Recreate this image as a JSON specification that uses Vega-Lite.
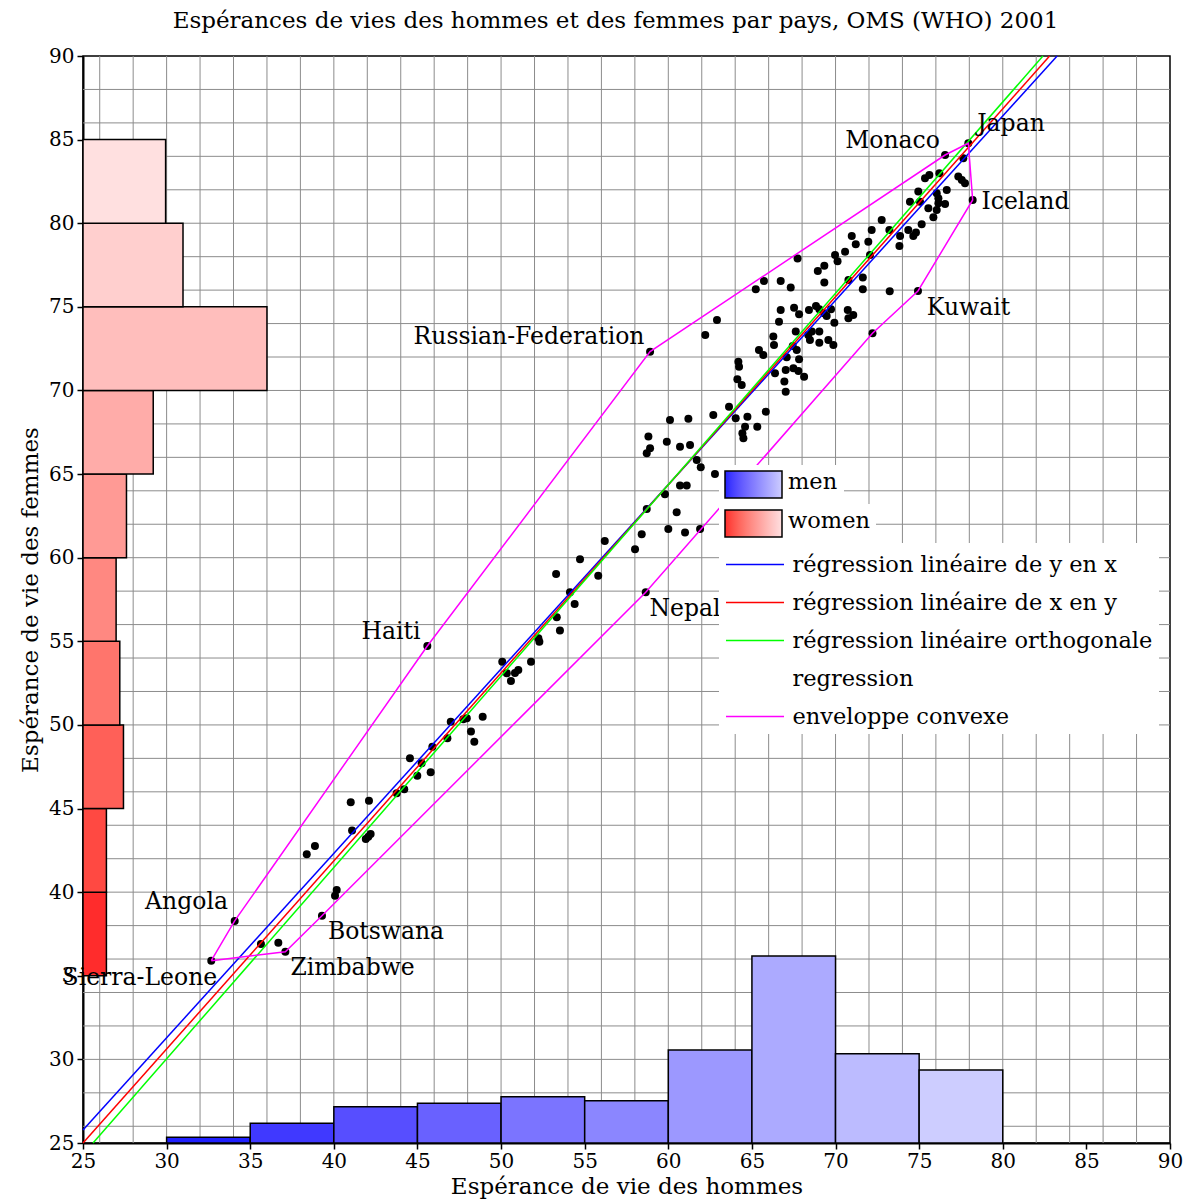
{
  "$schema": "https://vega.github.io/schema/vega-lite/v6.json",
  "width": 1087,
  "height": 1087,
  "autosize": "none",
  "padding": {"left": 83, "top": 56, "right": 17, "bottom": 57},
  "background": "white",
  "config": {"view": {"stroke": "black", "strokeWidth": 1.5}, "font": "DejaVu Serif", "axis": {"labelOverlap": false, "labelFlush": false}},
  "title": {"text": "Espérances de vies des hommes et des femmes par pays, OMS (WHO) 2001", "font": "DejaVu Serif", "fontSize": 23, "fontWeight": "normal", "color": "black", "offset": 13, "anchor": "middle", "dx": -11},
  "datasets": {
    "grid": [
      {"v": 26}, {"v": 28}, {"v": 30}, {"v": 32}, {"v": 34}, {"v": 36}, {"v": 38}, {"v": 40}, {"v": 42}, {"v": 44},
      {"v": 46}, {"v": 48}, {"v": 50}, {"v": 52}, {"v": 54}, {"v": 56}, {"v": 58}, {"v": 60}, {"v": 62}, {"v": 64},
      {"v": 66}, {"v": 68}, {"v": 70}, {"v": 72}, {"v": 74}, {"v": 76}, {"v": 78}, {"v": 80}, {"v": 82}, {"v": 84},
      {"v": 86}, {"v": 88}
    ],
    "women": [
      {"lo": 35, "hi": 40, "len": 26.4},
      {"lo": 40, "hi": 45, "len": 26.4},
      {"lo": 45, "hi": 50, "len": 27.42},
      {"lo": 50, "hi": 55, "len": 27.2},
      {"lo": 55, "hi": 60, "len": 26.98},
      {"lo": 60, "hi": 65, "len": 27.6},
      {"lo": 65, "hi": 70, "len": 29.2},
      {"lo": 70, "hi": 75, "len": 36.0},
      {"lo": 75, "hi": 80, "len": 30.98},
      {"lo": 80, "hi": 85, "len": 29.94}
    ],
    "men": [
      {"lo": 30, "hi": 35, "top": 25.34},
      {"lo": 35, "hi": 40, "top": 26.18},
      {"lo": 40, "hi": 45, "top": 27.17},
      {"lo": 45, "hi": 50, "top": 27.37},
      {"lo": 50, "hi": 55, "top": 27.77},
      {"lo": 55, "hi": 60, "top": 27.53},
      {"lo": 60, "hi": 65, "top": 30.56},
      {"lo": 65, "hi": 70, "top": 36.18},
      {"lo": 70, "hi": 75, "top": 30.34},
      {"lo": 75, "hi": 80, "top": 29.37}
    ],
    "pts": [
      {"m": 45.59, "f": 54.72}, {"m": 50.07, "f": 53.78}, {"m": 50.34, "f": 53.09}, {"m": 50.59, "f": 52.63},
      {"m": 50.83, "f": 53.11}, {"m": 51.03, "f": 53.29}, {"m": 51.79, "f": 53.78}, {"m": 52.29, "f": 54.98},
      {"m": 52.23, "f": 55.18}, {"m": 46.99, "f": 50.19}, {"m": 47.74, "f": 50.34}, {"m": 47.95, "f": 50.4},
      {"m": 48.9, "f": 50.49}, {"m": 48.2, "f": 49.6}, {"m": 48.4, "f": 49.0}, {"m": 46.79, "f": 49.2},
      {"m": 45.89, "f": 48.7}, {"m": 44.55, "f": 48.01}, {"m": 45.25, "f": 47.71}, {"m": 44.99, "f": 46.96},
      {"m": 45.79, "f": 47.17}, {"m": 43.76, "f": 45.91}, {"m": 44.21, "f": 46.15}, {"m": 41.01, "f": 45.37},
      {"m": 42.1, "f": 45.47}, {"m": 41.09, "f": 43.68}, {"m": 41.91, "f": 43.18}, {"m": 42.2, "f": 43.48},
      {"m": 42.06, "f": 43.32}, {"m": 38.38, "f": 42.26}, {"m": 38.87, "f": 42.76}, {"m": 40.17, "f": 40.13},
      {"m": 40.07, "f": 39.79}, {"m": 39.29, "f": 38.59}, {"m": 34.07, "f": 38.28}, {"m": 35.64, "f": 36.9},
      {"m": 36.68, "f": 36.98}, {"m": 37.1, "f": 36.44}, {"m": 32.67, "f": 35.9}, {"m": 53.29, "f": 59.03},
      {"m": 54.72, "f": 59.91}, {"m": 55.81, "f": 58.92}, {"m": 56.2, "f": 61.0}, {"m": 54.12, "f": 57.93},
      {"m": 54.4, "f": 57.23}, {"m": 53.33, "f": 56.44}, {"m": 53.52, "f": 55.64}, {"m": 58.01, "f": 60.5},
      {"m": 58.41, "f": 61.4}, {"m": 58.65, "f": 57.93}, {"m": 58.71, "f": 62.91}, {"m": 59.8, "f": 63.79},
      {"m": 60.0, "f": 61.72}, {"m": 60.5, "f": 62.72}, {"m": 61.0, "f": 61.5}, {"m": 61.9, "f": 61.72},
      {"m": 60.7, "f": 64.31}, {"m": 61.1, "f": 64.31}, {"m": 61.7, "f": 65.84}, {"m": 61.94, "f": 65.41},
      {"m": 62.79, "f": 65.01}, {"m": 60.1, "f": 68.24}, {"m": 61.2, "f": 68.31}, {"m": 62.69, "f": 68.53},
      {"m": 63.63, "f": 69.03}, {"m": 64.03, "f": 68.34}, {"m": 64.73, "f": 68.43}, {"m": 64.59, "f": 67.83},
      {"m": 65.32, "f": 67.83}, {"m": 64.43, "f": 67.44}, {"m": 64.49, "f": 67.14}, {"m": 65.83, "f": 68.73},
      {"m": 58.81, "f": 67.24}, {"m": 59.91, "f": 66.94}, {"m": 60.7, "f": 66.64}, {"m": 61.3, "f": 66.74},
      {"m": 58.91, "f": 66.54}, {"m": 58.71, "f": 66.24}, {"m": 64.39, "f": 70.33}, {"m": 58.91, "f": 72.32},
      {"m": 62.21, "f": 73.32}, {"m": 62.91, "f": 74.22}, {"m": 65.23, "f": 76.05}, {"m": 65.72, "f": 76.55},
      {"m": 66.72, "f": 76.55}, {"m": 67.32, "f": 76.15}, {"m": 67.73, "f": 77.89}, {"m": 68.94, "f": 77.15},
      {"m": 69.33, "f": 77.45}, {"m": 69.33, "f": 76.45}, {"m": 70.12, "f": 77.73}, {"m": 70.77, "f": 76.61},
      {"m": 71.63, "f": 76.76}, {"m": 71.63, "f": 76.05}, {"m": 73.24, "f": 75.93}, {"m": 74.93, "f": 75.95},
      {"m": 66.72, "f": 74.81}, {"m": 67.52, "f": 74.95}, {"m": 67.82, "f": 74.56}, {"m": 68.41, "f": 74.81},
      {"m": 68.83, "f": 75.05}, {"m": 69.03, "f": 74.86}, {"m": 69.31, "f": 74.62}, {"m": 69.73, "f": 74.86},
      {"m": 69.47, "f": 74.45}, {"m": 69.93, "f": 74.05}, {"m": 70.73, "f": 74.81}, {"m": 71.06, "f": 74.51},
      {"m": 70.77, "f": 74.32}, {"m": 72.21, "f": 73.42}, {"m": 66.62, "f": 74.11}, {"m": 67.62, "f": 73.52},
      {"m": 66.28, "f": 73.22}, {"m": 66.32, "f": 72.72}, {"m": 68.37, "f": 73.32}, {"m": 68.58, "f": 73.52},
      {"m": 69.03, "f": 73.52}, {"m": 68.47, "f": 73.02}, {"m": 69.03, "f": 72.86}, {"m": 69.57, "f": 73.02},
      {"m": 69.87, "f": 72.72}, {"m": 67.44, "f": 72.66}, {"m": 67.68, "f": 72.42}, {"m": 65.42, "f": 72.42},
      {"m": 65.68, "f": 72.12}, {"m": 67.08, "f": 71.98}, {"m": 67.82, "f": 71.87}, {"m": 64.19, "f": 71.72},
      {"m": 64.23, "f": 71.42}, {"m": 66.38, "f": 71.03}, {"m": 67.02, "f": 71.23}, {"m": 67.48, "f": 71.33},
      {"m": 67.78, "f": 71.17}, {"m": 68.12, "f": 70.82}, {"m": 64.13, "f": 70.67}, {"m": 66.94, "f": 70.53},
      {"m": 67.02, "f": 69.93}, {"m": 77.94, "f": 84.78}, {"m": 76.55, "f": 84.08}, {"m": 77.64, "f": 83.89},
      {"m": 75.61, "f": 82.89}, {"m": 75.35, "f": 82.69}, {"m": 76.21, "f": 82.99}, {"m": 77.34, "f": 82.79},
      {"m": 77.55, "f": 82.59}, {"m": 77.74, "f": 82.39}, {"m": 78.2, "f": 81.39}, {"m": 74.95, "f": 81.89},
      {"m": 76.05, "f": 81.79}, {"m": 76.65, "f": 81.99}, {"m": 74.45, "f": 81.29}, {"m": 75.05, "f": 81.29},
      {"m": 76.15, "f": 81.49}, {"m": 75.55, "f": 80.9}, {"m": 76.15, "f": 81.19}, {"m": 76.55, "f": 81.15},
      {"m": 76.05, "f": 80.79}, {"m": 75.85, "f": 80.36}, {"m": 72.76, "f": 80.2}, {"m": 72.16, "f": 79.6},
      {"m": 70.97, "f": 79.24}, {"m": 71.21, "f": 78.74}, {"m": 71.96, "f": 78.9}, {"m": 73.22, "f": 79.6},
      {"m": 73.86, "f": 79.24}, {"m": 73.82, "f": 78.64}, {"m": 74.35, "f": 79.6}, {"m": 74.65, "f": 79.24},
      {"m": 75.15, "f": 79.94}, {"m": 74.81, "f": 79.44}, {"m": 70.57, "f": 78.3}, {"m": 69.97, "f": 78.1},
      {"m": 72.06, "f": 78.1}
    ],
    "lines": [
      {"series": "régression linéaire de y en x", "ord": 0, "x": 25, "y": 25.78},
      {"series": "régression linéaire de y en x", "ord": 1, "x": 83.25, "y": 90},
      {"series": "régression linéaire de x en y", "ord": 0, "x": 25, "y": 25.0},
      {"series": "régression linéaire de x en y", "ord": 1, "x": 82.8, "y": 90},
      {"series": "régression linéaire orthogonale", "ord": 0, "x": 25.6, "y": 25},
      {"series": "régression linéaire orthogonale", "ord": 1, "x": 82.4, "y": 90},
      {"series": "enveloppe convexe", "ord": 0, "x": 32.67, "y": 35.9},
      {"series": "enveloppe convexe", "ord": 1, "x": 34.07, "y": 38.28},
      {"series": "enveloppe convexe", "ord": 2, "x": 45.59, "y": 54.72},
      {"series": "enveloppe convexe", "ord": 3, "x": 58.91, "y": 72.32},
      {"series": "enveloppe convexe", "ord": 4, "x": 76.55, "y": 84.08},
      {"series": "enveloppe convexe", "ord": 5, "x": 77.94, "y": 84.78},
      {"series": "enveloppe convexe", "ord": 6, "x": 78.2, "y": 81.39},
      {"series": "enveloppe convexe", "ord": 7, "x": 74.93, "y": 75.95},
      {"series": "enveloppe convexe", "ord": 8, "x": 72.21, "y": 73.42},
      {"series": "enveloppe convexe", "ord": 9, "x": 58.65, "y": 57.93},
      {"series": "enveloppe convexe", "ord": 10, "x": 39.29, "y": 38.59},
      {"series": "enveloppe convexe", "ord": 11, "x": 37.1, "y": 36.44},
      {"series": "enveloppe convexe", "ord": 12, "x": 32.67, "y": 35.9}
    ],
    "labels": [
      {"name": "Japan", "lx": 80.49, "ly": 85.94},
      {"name": "Monaco", "lx": 73.41, "ly": 84.92},
      {"name": "Iceland", "lx": 81.36, "ly": 81.27},
      {"name": "Kuwait", "lx": 77.95, "ly": 74.93},
      {"name": "Russian-Federation", "lx": 51.67, "ly": 73.2},
      {"name": "Haiti", "lx": 43.42, "ly": 55.56},
      {"name": "Nepal", "lx": 61.0, "ly": 56.93},
      {"name": "Angola", "lx": 31.19, "ly": 39.41},
      {"name": "Botswana", "lx": 43.12, "ly": 37.62},
      {"name": "Zimbabwe", "lx": 41.12, "ly": 35.47},
      {"name": "Sierra-Leone", "lx": 28.4, "ly": 34.87}
    ]
  },
  "layer": [
    {
      "data": {"name": "grid"},
      "mark": {"type": "rule", "color": "#8c8c8c", "strokeWidth": 1},
      "encoding": {
        "x": {"field": "v", "type": "quantitative", "title": "Espérance de vie des hommes",
          "scale": {"domain": [25, 90], "nice": false, "zero": false},
          "axis": {
            "values": [25,30,35,40,45,50,55,60,65,70,75,80,85,90],
            "grid": false,
            "tickColor": "black", "tickSize": 6, "tickWidth": 1.5,
            "domainColor": "black", "domainWidth": 2,
            "labelFont": "DejaVu Serif", "labelFontSize": 20, "labelColor": "black", "labelPadding": 2,
            "labelFlush": false, "labelOverlap": false,
            "titleFont": "DejaVu Serif", "titleFontSize": 23, "titleFontWeight": "normal", "titleColor": "black", "titlePadding": 4
          }
        }
      }
    },
    {
      "data": {"name": "grid"},
      "mark": {"type": "rule", "color": "#8c8c8c", "strokeWidth": 1},
      "encoding": {
        "y": {"field": "v", "type": "quantitative", "title": "Espérance de vie des femmes",
          "scale": {"domain": [25, 90], "nice": false, "zero": false},
          "axis": {
            "values": [25,30,35,40,45,50,55,60,65,70,75,80,85,90],
            "grid": false,
            "tickColor": "black", "tickSize": 6, "tickWidth": 1.5,
            "domainColor": "black", "domainWidth": 2,
            "labelExpr": "datum.value === 35 ? '3\u00a0\u00a0' : datum.label",
            "labelFont": "DejaVu Serif", "labelFontSize": 20, "labelColor": "black", "labelPadding": 3,
            "labelFlush": false, "labelOverlap": false,
            "titleFont": "DejaVu Serif", "titleFontSize": 23, "titleFontWeight": "normal", "titleColor": "black", "titlePadding": 6
          }
        }
      }
    },
    {
      "data": {"name": "women"},
      "mark": {"type": "rect", "stroke": "black", "strokeWidth": 1.5},
      "encoding": {
        "y": {"field": "lo", "type": "quantitative", "title": "Espérance de vie des femmes", "scale": {"domain": [25, 90], "nice": false, "zero": false}},
        "y2": {"field": "hi"},
        "x": {"field": "len", "type": "quantitative", "title": "Espérance de vie des hommes", "scale": {"domain": [25, 90], "nice": false, "zero": false}},
        "x2": {"datum": 25},
        "fill": {"field": "lo", "type": "quantitative", "scale": {"domain": [35, 80], "range": ["#ff2c2c", "#ffe0e0"]},
          "legend": {
            "type": "gradient", "direction": "horizontal", "orient": "none", "legendX": 636, "legendY": 448,
            "fillColor": "white", "padding": 6,
            "gradientLength": 57, "gradientThickness": 27, "gradientStrokeColor": "black", "gradientStrokeWidth": 1.5,
            "labelExpr": "''", "labelFontSize": 1, "labelOffset": 0,
            "title": "women\u00a0\u00a0\u00a0\u00a0\u00a0\u00a0\u00a0\u00a0\u00a0\u00a0\u00a0\u00a0\u00a0\u00a0\u00a0\u00a0\u00a0\u00a0\u00a0\u00a0\u00a0\u00a0\u00a0\u00a0\u00a0\u00a0\u00a0\u00a0\u00a0\u00a0\u00a0\u00a0\u00a0\u00a0\u00a0\u00a0\u00a0\u00a0\u00a0\u00a0",
            "titleOrient": "right", "titleAngle": 0, "titleAnchor": "middle", "titleBaseline": "middle", "titleLimit": 1000,
            "titleFont": "DejaVu Serif", "titleFontSize": 22.5, "titleFontWeight": "normal", "titleColor": "black", "titlePadding": 11
          }
        }
      }
    },
    {
      "data": {"name": "men"},
      "mark": {"type": "rect", "stroke": "black", "strokeWidth": 1.5},
      "encoding": {
        "x": {"field": "lo", "type": "quantitative", "title": "Espérance de vie des hommes", "scale": {"domain": [25, 90], "nice": false, "zero": false}},
        "x2": {"field": "hi"},
        "y": {"field": "top", "type": "quantitative", "title": "Espérance de vie des femmes", "scale": {"domain": [25, 90], "nice": false, "zero": false}},
        "y2": {"datum": 25},
        "fill": {"field": "lo", "type": "quantitative", "scale": {"domain": [30, 75], "range": ["#2020ff", "#cdcdff"]},
          "legend": {
            "type": "gradient", "direction": "horizontal", "orient": "none", "legendX": 636, "legendY": 409,
            "fillColor": "white", "padding": 6,
            "gradientLength": 57, "gradientThickness": 27, "gradientStrokeColor": "black", "gradientStrokeWidth": 1.5,
            "labelExpr": "''", "labelFontSize": 1, "labelOffset": 0,
            "title": "men\u00a0\u00a0\u00a0\u00a0\u00a0\u00a0\u00a0\u00a0\u00a0\u00a0\u00a0\u00a0\u00a0\u00a0\u00a0\u00a0\u00a0\u00a0\u00a0\u00a0\u00a0\u00a0\u00a0\u00a0\u00a0\u00a0\u00a0\u00a0\u00a0\u00a0\u00a0\u00a0\u00a0\u00a0\u00a0\u00a0\u00a0\u00a0\u00a0\u00a0\u00a0\u00a0\u00a0\u00a0\u00a0",
            "titleOrient": "right", "titleAngle": 0, "titleAnchor": "middle", "titleBaseline": "middle", "titleLimit": 1000,
            "titleFont": "DejaVu Serif", "titleFontSize": 22.5, "titleFontWeight": "normal", "titleColor": "black", "titlePadding": 11
          }
        }
      }
    },
    {
      "data": {"name": "pts"},
      "mark": {"type": "circle", "size": 64, "color": "black", "opacity": 1},
      "encoding": {
        "x": {"field": "m", "type": "quantitative", "title": "Espérance de vie des hommes", "scale": {"domain": [25, 90], "nice": false, "zero": false}},
        "y": {"field": "f", "type": "quantitative", "title": "Espérance de vie des femmes", "scale": {"domain": [25, 90], "nice": false, "zero": false}}
      }
    },
    {
      "data": {"name": "lines"},
      "mark": {"type": "line", "strokeWidth": 1.5},
      "encoding": {
        "x": {"field": "x", "type": "quantitative", "title": "Espérance de vie des hommes", "scale": {"domain": [25, 90], "nice": false, "zero": false}},
        "y": {"field": "y", "type": "quantitative", "title": "Espérance de vie des femmes", "scale": {"domain": [25, 90], "nice": false, "zero": false}},
        "order": {"field": "ord", "type": "quantitative"},
        "stroke": {
          "field": "series", "type": "nominal",
          "scale": {
            "domain": ["régression linéaire de y en x", "régression linéaire de x en y", "régression linéaire orthogonale", "regression", "enveloppe convexe"],
            "range": ["#0000ff", "#ff0000", "#00ff00", "rgba(0,0,0,0)", "#ff00ff"]
          },
          "legend": {
            "title": null,
            "orient": "none",
            "legendX": 636,
            "legendY": 487,
            "fillColor": "white",
            "padding": 6,
            "symbolType": "M-2,0H2",
            "symbolSize": 841,
            "symbolOffset": 14.5,
            "symbolStrokeWidth": 1.5,
            "labelOffset": 22,
            "labelFont": "DejaVu Serif",
            "labelFontSize": 22.5,
            "labelColor": "black",
            "labelLimit": 600,
            "labelExpr": "datum.label === 'régression linéaire orthogonale' ? datum.label + '\u00a0\u00a0' : datum.label",
            "rowPadding": 11
          }
        }
      }
    },
    {
      "data": {"name": "labels"},
      "mark": {"type": "text", "font": "DejaVu Serif", "fontSize": 23.5, "color": "black", "align": "center", "baseline": "middle"},
      "encoding": {
        "x": {"field": "lx", "type": "quantitative", "title": "Espérance de vie des hommes", "scale": {"domain": [25, 90], "nice": false, "zero": false}},
        "y": {"field": "ly", "type": "quantitative", "title": "Espérance de vie des femmes", "scale": {"domain": [25, 90], "nice": false, "zero": false}},
        "text": {"field": "name", "type": "nominal"}
      }
    }
  ],
  "resolve": {"scale": {"fill": "independent"}}
}
